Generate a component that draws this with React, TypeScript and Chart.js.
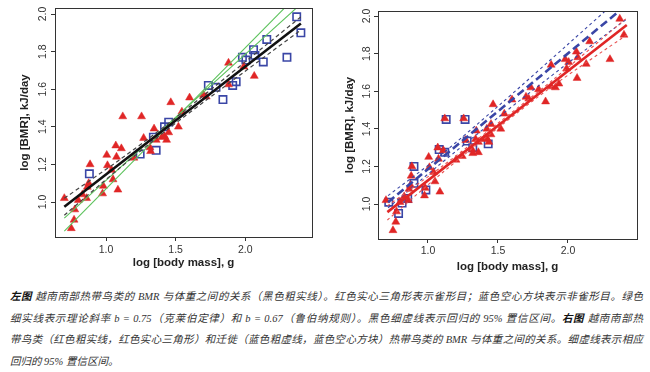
import React, { useEffect, useRef } from "react";
import { Chart, registerables } from "chart.js";

Chart.register(...registerables);

// ---------- data ----------
const xTicks = [1.0, 1.5, 2.0];
const yTicks = [1.0, 1.2, 1.4, 1.6, 1.8, 2.0];
const xTitle = "log [body mass], g";
const yTitle = "log [BMR], kJ/day";

// left panel: red filled triangles (Passeriformes)
const passerines: [number, number][] = [
  [0.70, 1.02], [0.75, 0.86], [0.77, 0.905], [0.775, 0.96], [0.80, 1.01],
  [0.83, 1.04], [0.86, 1.02], [0.865, 1.08], [0.875, 1.10], [0.885, 1.20],
  [0.975, 1.045], [0.98, 1.085], [1.005, 1.25], [1.01, 1.195], [1.04, 1.17],
  [1.05, 1.12], [1.07, 1.30], [1.075, 1.24], [1.085, 1.065], [1.11, 1.285],
  [1.12, 1.455], [1.20, 1.235], [1.255, 1.455], [1.27, 1.34], [1.315, 1.29],
  [1.32, 1.27], [1.345, 1.39], [1.36, 1.33], [1.40, 1.345], [1.42, 1.35],
  [1.435, 1.33], [1.45, 1.37], [1.465, 1.53], [1.52, 1.40], [1.545, 1.48],
  [1.60, 1.555], [1.70, 1.57], [1.72, 1.56], [1.88, 1.74], [1.88, 1.625],
  [1.99, 1.72], [2.065, 1.67],
];

// left panel: blue open squares (non-Passeriformes)
const nonPasserines: [number, number][] = [
  [0.88, 1.15], [1.245, 1.255], [1.36, 1.275], [1.34, 1.345], [1.42, 1.40],
  [1.45, 1.425], [1.735, 1.62], [1.79, 1.61], [1.84, 1.545], [1.91, 1.62],
  [1.935, 1.64], [1.98, 1.77], [2.005, 1.755], [2.06, 1.81], [2.07, 1.78],
  [2.13, 1.745], [2.155, 1.865], [2.30, 1.77], [2.37, 1.985], [2.40, 1.90],
];

// right panel: red filled triangles (tropical residents = all birds of left panel)
const residents: [number, number][] = [...passerines, ...nonPasserines];

// right panel: blue open squares (migrants)
const migrants: [number, number][] = [
  [0.72, 1.01], [0.79, 0.95], [0.815, 1.005], [0.855, 1.03], [0.90, 1.20],
  [0.90, 1.11], [0.985, 1.075], [1.08, 1.29], [1.12, 1.275], [1.13, 1.45],
  [1.265, 1.45], [1.28, 1.335], [1.32, 1.30], [1.43, 1.32],
];

// left panel lines
const allFit: [number, number][] = [[0.70, 0.975], [2.40, 1.95]];
const allCiUpper: [number, number][] = [[0.70, 1.02], [1.10, 1.226], [1.45, 1.419], [1.80, 1.626], [2.40, 1.985]];
const allCiLower: [number, number][] = [[0.70, 0.93], [1.10, 1.182], [1.45, 1.391], [1.80, 1.586], [2.40, 1.915]];
const kleiber075: [number, number][] = [[0.70, 0.845], [2.32, 2.06]];
const rubner067: [number, number][] = [[0.70, 0.914], [2.45, 2.087]];

// right panel lines
const residentFit: [number, number][] = [[0.71, 0.957], [2.42, 1.952]];
const residentCiUpper: [number, number][] = [[0.71, 0.99], [1.10, 1.20], [1.50, 1.43], [1.90, 1.665], [2.42, 1.99]];
const residentCiLower: [number, number][] = [[0.71, 0.915], [1.10, 1.165], [1.50, 1.405], [1.90, 1.633], [2.42, 1.90]];
const migrantFit: [number, number][] = [[0.715, 1.01], [2.42, 2.06]];
const migrantCiUpper: [number, number][] = [[0.715, 1.045], [1.05, 1.235], [1.50, 1.52], [2.00, 1.85], [2.42, 2.13]];
const migrantCiLower: [number, number][] = [[0.715, 0.98], [1.05, 1.19], [1.50, 1.46], [2.00, 1.75], [2.42, 1.985]];

// ---------- styles ----------
const RED = "#e02626";
const RED_LIGHT = "#e85050";
const BLUE = "#3a46a6";
const GREEN = "#5cc25c";
const INK = "#333333";
const W = 325;
const H = 280;

type Lay = {
  left: number; top: number; right: number; bottom: number;
  xMin: number; xMax: number; yMin: number; yMax: number;
  yLabelX: number; yTitleX: number; xLabelY: number; xTitleY: number;
};

const leftLay: Lay = {
  left: 55, top: 8, right: 312, bottom: 237,
  xMin: 0.633, xMax: 2.48, yMin: 0.814, yMax: 2.032,
  yLabelX: 43, yTitleX: 25, xLabelY: 250, xTitleY: 263,
};
const rightLay: Lay = {
  left: 53, top: 11, right: 312, bottom: 239,
  xMin: 0.643, xMax: 2.493, yMin: 0.814, yMax: 2.027,
  yLabelX: 42, yTitleX: 25, xLabelY: 251, xTitleY: 267,
};

const pts = (a: [number, number][]) => a.map(([x, y]) => ({ x, y }));

const triangles = (data: [number, number][]) => ({
  type: "scatter" as const,
  data: pts(data),
  pointStyle: "triangle",
  pointRadius: 4.6,
  backgroundColor: RED,
  borderColor: RED,
  borderWidth: 0.5,
  order: 2,
});
const squares = (data: [number, number][]) => ({
  type: "scatter" as const,
  data: pts(data),
  pointStyle: "rect",
  pointRadius: 5.2,
  backgroundColor: "rgba(0,0,0,0)",
  borderColor: BLUE,
  borderWidth: 1.6,
  order: 2,
});
const line = (data: [number, number][], color: string, width: number, dash: number[] = [], tension = 0) => ({
  type: "line" as const,
  data: pts(data),
  borderColor: color,
  borderWidth: width,
  borderDash: dash,
  pointRadius: 0,
  fill: false,
  tension,
  showLine: true,
  order: 1,
});

const framePlugin = (lay: Lay) => ({
  id: "frame",
  afterDraw(chart: any) {
    const { ctx, chartArea: a, scales } = chart;
    ctx.save();
    ctx.strokeStyle = INK;
    ctx.lineWidth = 1;
    ctx.strokeRect(Math.round(a.left) + 0.5, Math.round(a.top) + 0.5,
      Math.round(a.right - a.left), Math.round(a.bottom - a.top));
    ctx.fillStyle = INK;
    ctx.textAlign = "center";
    ctx.textBaseline = "middle";
    ctx.font = '10.5px "Liberation Sans", Arial, sans-serif';
    xTicks.forEach((v) => ctx.fillText(v.toFixed(1), scales.x.getPixelForValue(v), lay.xLabelY));
    yTicks.forEach((v) => {
      ctx.save();
      ctx.translate(lay.yLabelX, scales.y.getPixelForValue(v));
      ctx.rotate(-Math.PI / 2);
      ctx.fillText(v.toFixed(1), 0, 0);
      ctx.restore();
    });
    ctx.fillStyle = "#222";
    ctx.font = 'bold 11.5px "Liberation Sans", Arial, sans-serif';
    ctx.fillText(xTitle, (a.left + a.right) / 2, lay.xTitleY);
    ctx.save();
    ctx.translate(lay.yTitleX, (a.top + a.bottom) / 2);
    ctx.rotate(-Math.PI / 2);
    ctx.fillText(yTitle, 0, 0);
    ctx.restore();
    ctx.restore();
  },
});

function Panel({ lay, datasets }: { lay: Lay; datasets: any[] }) {
  const ref = useRef<HTMLCanvasElement | null>(null);
  useEffect(() => {
    if (!ref.current) return;
    const chart = new Chart(ref.current, {
      type: "scatter",
      data: { datasets },
      options: {
        animation: false,
        responsive: false,
        devicePixelRatio: 1,
        layout: { padding: { left: 0, top: lay.top, right: W - lay.right, bottom: 0 } },
        plugins: { legend: { display: false }, tooltip: { enabled: false } },
        scales: {
          x: {
            type: "linear",
            min: lay.xMin,
            max: lay.xMax,
            afterBuildTicks: (s: any) => { s.ticks = xTicks.map((value) => ({ value })); },
            afterFit: (s: any) => { s.height = H - lay.bottom; },
            ticks: { display: false },
            grid: { display: true, drawOnChartArea: false, drawTicks: true, tickLength: 4, color: INK, lineWidth: 1 },
            border: { display: false },
          },
          y: {
            type: "linear",
            min: lay.yMin,
            max: lay.yMax,
            afterBuildTicks: (s: any) => { s.ticks = yTicks.map((value) => ({ value })); },
            afterFit: (s: any) => { s.width = lay.left; },
            ticks: { display: false },
            grid: { display: true, drawOnChartArea: false, drawTicks: true, tickLength: 4, color: INK, lineWidth: 1 },
            border: { display: false },
          },
        },
      } as any,
      plugins: [framePlugin(lay)],
    });
    return () => chart.destroy();
  }, []);
  return <canvas ref={ref} width={W} height={H} style={{ display: "block", width: W, height: H }} />;
}

const leftSets = [
  line(allFit, "#111", 2.6),
  line(allCiUpper, "#444", 1.2, [4, 3], 0.3),
  line(allCiLower, "#444", 1.2, [4, 3], 0.3),
  line(kleiber075, GREEN, 1.1),
  line(rubner067, GREEN, 1.1),
  triangles(passerines),
  squares(nonPasserines),
];
const rightSets = [
  line(residentFit, RED, 2.6),
  line(residentCiUpper, RED_LIGHT, 1.1, [3, 3], 0.3),
  line(residentCiLower, RED_LIGHT, 1.1, [3, 3], 0.3),
  line(migrantFit, BLUE, 2.6, [8, 4]),
  line(migrantCiUpper, BLUE, 1.1, [3, 3], 0.3),
  line(migrantCiLower, BLUE, 1.1, [3, 3], 0.3),
  triangles(residents),
  squares(migrants),
];

const captionLines: { parts: { t: string; b?: boolean }[]; justify: boolean }[] = [
  { parts: [{ t: "左图", b: true }, { t: " 越南南部热带鸟类的 BMR 与体重之间的关系（黑色粗实线）。红色实心三角形表示雀形目；蓝色空心方块表示非雀形目。绿色" }], justify: true },
  { parts: [{ t: "细实线表示理论斜率 b = 0.75（克莱伯定律）和 b = 0.67（鲁伯纳规则）。黑色细虚线表示回归的 95% 置信区间。" }, { t: "右图", b: true }, { t: " 越南南部热" }], justify: true },
  { parts: [{ t: "带鸟类（红色粗实线，红色实心三角形）和迁徙（蓝色粗虚线，蓝色空心方块）热带鸟类的 BMR 与体重之间的关系。细虚线表示相应" }], justify: true },
  { parts: [{ t: "回归的 95% 置信区间。" }], justify: false },
];

export default function App() {
  return (
    <div style={{ position: "absolute", left: 0, top: 0, width: 650, height: 372, background: "#fff", overflow: "hidden" }}>
      <div style={{ position: "absolute", left: 0, top: 0 }}><Panel lay={leftLay} datasets={leftSets} /></div>
      <div style={{ position: "absolute", left: 325, top: 0 }}><Panel lay={rightLay} datasets={rightSets} /></div>
      <div style={{ position: "absolute", left: 10, top: 286, width: 633, fontFamily: '"Liberation Serif", "Noto Sans CJK SC", serif', fontStyle: "italic", fontSize: 10.5, lineHeight: "21.6px", color: "#333" }}>
        {captionLines.map((ln, i) => (
          <div key={i} style={{ whiteSpace: "nowrap", textAlign: ln.justify ? "justify" : "left", textAlignLast: ln.justify ? "justify" : "auto" } as any}>
            {ln.parts.map((p, j) => (
              <span key={j} style={p.b ? { fontWeight: "bold", color: "#111" } : undefined}>{p.t}</span>
            ))}
          </div>
        ))}
      </div>
    </div>
  );
}
